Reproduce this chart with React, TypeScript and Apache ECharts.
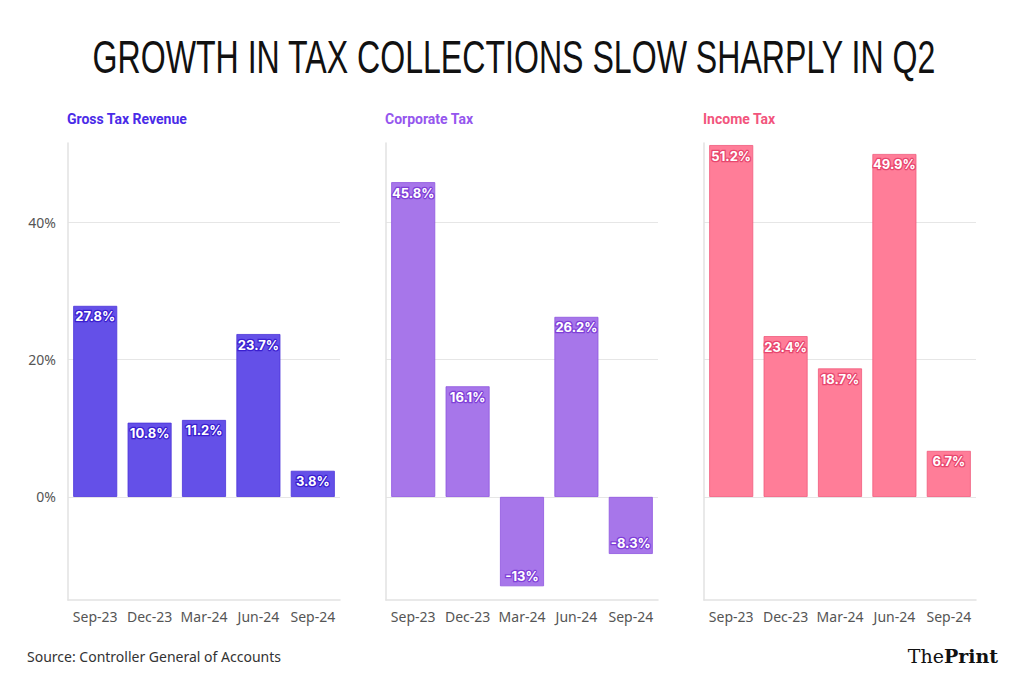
import React, { useEffect, useRef } from "react";
import * as echarts from "echarts";

const categories = ["Sep-23", "Dec-23", "Mar-24", "Jun-24", "Sep-24"];
const grossTax = [27.8, 10.8, 11.2, 23.7, 3.8];
const corporateTax = [45.8, 16.1, -13, 26.2, -8.3];
const incomeTax = [51.2, 23.4, 18.7, 49.9, 6.7];
const yTicks = [0, 20, 40];

const panels = [
  { name: "Gross Tax Revenue", values: grossTax, color: "#6450E8", border: "#4B34D9", text: "#3A1FD0", title: "#4A2BE8", left: 68 },
  { name: "Corporate Tax", values: corporateTax, color: "#A776EA", border: "#8E55E0", text: "#7F3FD8", title: "#9556EE", left: 386 },
  { name: "Income Tax", values: incomeTax, color: "#FF7D98", border: "#F05A7C", text: "#E8466E", title: "#F2557D", left: 704 },
];

export default function App() {
  const ref = useRef<HTMLDivElement>(null);
  useEffect(() => {
    const chart = echarts.init(ref.current!, undefined, { renderer: "svg" });
    const top = 143;
    const bottom = 675 - 600;
    const width = 272;
    const option: any = {
      animation: false,
      backgroundColor: "#ffffff",
      grid: panels.map((p) => ({ left: p.left, top, width, bottom })),
      xAxis: panels.map((p, i) => ({
        type: "category",
        gridIndex: i,
        data: categories,
        position: "bottom",
        axisLine: { onZero: false, lineStyle: { color: "#e2e2e2", width: 1.5 } },
        axisTick: { alignWithLabel: true, interval: 0, length: 5, lineStyle: { color: "#e2e2e2" } },
        axisLabel: { interval: 0, color: "#555555", fontSize: 14, fontFamily: "Noto Sans", margin: 9 },
      })),
      yAxis: panels.map((p, i) => ({
        type: "value",
        gridIndex: i,
        min: -15,
        max: 51.5,
        axisLine: { show: true, lineStyle: { color: "#e2e2e2", width: 1.5 } },
        axisTick: { show: false, customValues: yTicks },
        axisLabel: {
          show: i === 0,
          customValues: yTicks,
          formatter: "{value}%",
          color: "#555555",
          fontSize: 14,
          fontFamily: "Noto Sans",
          margin: 12,
        },
        splitLine: { show: true, lineStyle: { color: "#e6e6e6", width: 1.2 } },
      })),
      series: panels.map((p, i) => ({
        type: "bar",
        xAxisIndex: i,
        yAxisIndex: i,
        barWidth: 44,
        itemStyle: { color: p.color, borderColor: p.border, borderWidth: 0.8 },
        data: p.values.map((v) => ({
          value: v,
          label: { position: v < 0 ? "insideBottom" : "insideTop" },
        })),
        label: {
          show: true,
          distance: 4,
          formatter: (d: any) => `${d.value}%`,
          color: "#ffffff",
          fontWeight: "bold",
          fontSize: 13,
          fontFamily: "Inter",
          textBorderColor: p.text,
          textBorderWidth: 2.5,
        },
      })),
      graphic: [
        {
          type: "text",
          x: 514,
          y: 57,
          scaleX: 0.683,
          style: {
            text: "GROWTH IN TAX COLLECTIONS SLOW SHARPLY IN Q2",
            x: 0,
            y: 0,
            textAlign: "center",
            textVerticalAlign: "middle",
            fontSize: 47,
            fontFamily: "Liberation Sans",
            fill: "#111111",
          },
        },
        ...panels.map((p) => ({
          type: "text",
          x: p.left - 1,
          y: 119,
          style: {
            text: p.name,
            textVerticalAlign: "middle",
            fontSize: 14,
            fontWeight: "bold",
            fontFamily: "Roboto",
            fill: p.title,
          },
        })),
        {
          type: "text",
          x: 27,
          y: 656,
          style: {
            text: "Source: Controller General of Accounts",
            textVerticalAlign: "middle",
            fontSize: 14,
            fontFamily: "Noto Sans",
            fill: "#333333",
          },
        },
        {
          type: "text",
          x: 998,
          y: 656,
          style: {
            text: "{a|The}{b|Print}",
            textAlign: "right",
            textVerticalAlign: "middle",
            rich: {
              a: { fontSize: 19, fontFamily: "DejaVu Serif", fill: "#111111" },
              b: { fontSize: 19, fontFamily: "DejaVu Serif", fontWeight: "bold", fill: "#111111" },
            },
          },
        },
      ],
    };
    chart.setOption(option);
    return () => chart.dispose();
  }, []);
  return <div ref={ref} style={{ width: 1010, height: 675, position: "absolute", left: 0, top: 0 }} />;
}
